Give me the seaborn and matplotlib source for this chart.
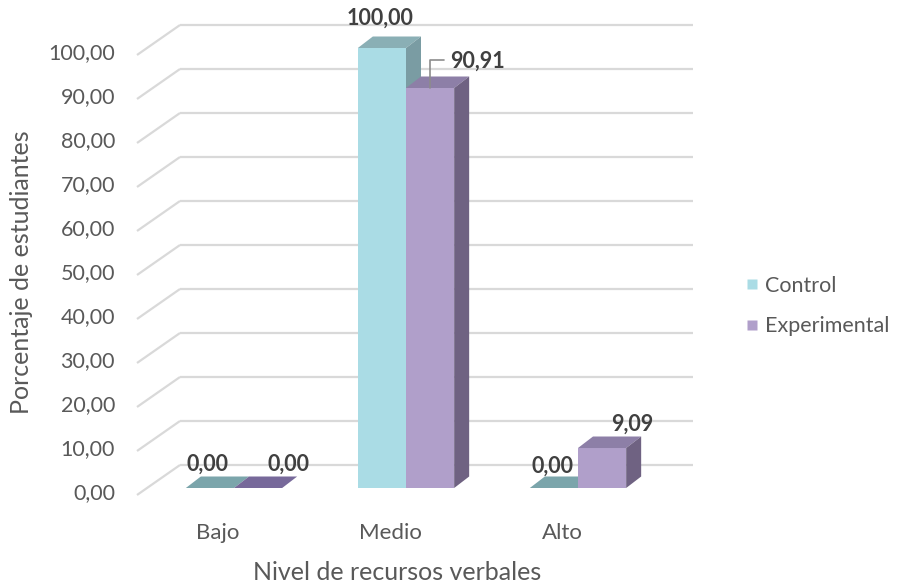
import numpy as np
import pandas as pd
import matplotlib
matplotlib.use("Agg")
import matplotlib.pyplot as plt
from matplotlib.patches import Polygon
from matplotlib.lines import Line2D
import seaborn as sns

# ---- data ----
categories = ["Bajo", "Medio", "Alto"]
groups = ["Control", "Experimental"]
control = [0.00, 100.00, 0.00]
experimental = [0.00, 90.91, 9.09]
y_ticks = [0, 10, 20, 30, 40, 50, 60, 70, 80, 90, 100]

df = pd.DataFrame({
    "nivel": categories * 2,
    "grupo": [groups[0]] * 3 + [groups[1]] * 3,
    "pct": control + experimental,
})

sns.set_theme(style="white")
plt.rcParams["font.family"] = ["Lato", "DejaVu Sans"]

W, H = 897, 585
fig = plt.figure(figsize=(W / 100, H / 100), dpi=100)
ax = fig.add_axes([0, 0, 1, 1])

# pixel scale of the drawing: category spacing and pixels per percent
SX, SY = 172.0, 4.4
X0, Y0 = 234.0, 488.0      # pixel of first category centre / bar baseline


def dx(px):
    return px / SX


def dy(px):
    return px / SY


front = {"Control": "#aadce5", "Experimental": "#b09fca"}
top_c = {"Control": "#8aafb5", "Experimental": "#8d7fa7"}
side_c = {"Control": "#7a9ca3", "Experimental": "#6f6282"}
flat_c = {"Control": "#7ba5ab", "Experimental": "#77699a"}
txt_col = "#595959"

# back wall gridlines with the receding edge on the left
grid_col = "#d9d9d9"
for v in y_ticks:
    yb = v + dy(Y0 - 465)
    yf = v - dy(7)
    ax.plot([dx(137 - X0), dx(180 - X0)], [yf, yb], color=grid_col, lw=1.6,
            zorder=0, solid_capstyle="butt")
    ax.plot([dx(180 - X0), dx(693 - X0)], [yb, yb], color=grid_col, lw=1.6,
            zorder=0, solid_capstyle="butt")
    ax.text(dx(115 - X0), v - dy(5), f"{v:.2f}".replace(".", ","),
            ha="right", va="center", fontsize=15.5, color=txt_col)

# front faces of the bars
sns.barplot(data=df, x="nivel", y="pct", hue="grupo", order=categories,
            hue_order=groups, palette=front, width=0.56, saturation=1,
            linewidth=0, edgecolor="none", legend=False, ax=ax, zorder=2)

# depth of each bar (top and side faces)
ddx, ddy = dx(15), dy(11.5)
for gi, (g, cont) in enumerate(zip(groups, ax.containers)):
    z = 1 if gi == 0 else 3
    for p in cont.patches:
        x0, w, h = p.get_x(), p.get_width(), p.get_height()
        x1 = x0 + w
        if h <= 0:
            ax.add_patch(Polygon([(x0, 0), (x1, 0), (x1 + ddx, ddy), (x0 + ddx, ddy)],
                                 closed=True, fc=flat_c[g], ec="none", zorder=z))
            continue
        ax.add_patch(Polygon([(x0, h), (x1, h), (x1 + ddx, h + ddy), (x0 + ddx, h + ddy)],
                             closed=True, fc=top_c[g], ec="none", zorder=z))
        ax.add_patch(Polygon([(x1, 0), (x1, h), (x1 + ddx, h + ddy), (x1 + ddx, ddy)],
                             closed=True, fc=side_c[g], ec="none", zorder=z))

# value labels (pixel offsets from the top centre of each bar)
label_off = {
    ("Control", 0): (-2, 24), ("Experimental", 0): (30, 24),
    ("Control", 1): (-2, 30), ("Experimental", 1): (20, 27),
    ("Control", 2): (-1, 22), ("Experimental", 2): (30, 24),
}
for g, cont in zip(groups, ax.containers):
    for ci, p in enumerate(cont.patches):
        cx = p.get_x() + p.get_width() / 2
        h = p.get_height()
        ox, oy = label_off[(g, ci)]
        txt = f"{h:.2f}".replace(".", ",")
        if g == "Experimental" and ci == 1:
            ax.plot([cx, cx, cx + dx(14)], [h, h + dy(28), h + dy(28)],
                    color="#8c8c8c", lw=1.2, zorder=4)
            ax.text(cx + dx(ox), h + dy(oy), txt, ha="left", va="center",
                    fontsize=15.5, fontweight="bold", color="#404040", zorder=5)
        else:
            ax.text(cx + dx(ox), h + dy(oy), txt, ha="center", va="center",
                    fontsize=15.5, fontweight="bold", color="#404040", zorder=5)

# category labels
for i, c in enumerate(categories):
    ax.text(i - dx(16), -dy(533 - Y0), c, ha="center", va="center",
            fontsize=16, color=txt_col)

ax.text(dx(397 - X0), -dy(573 - Y0), "Nivel de recursos verbales",
        ha="center", va="center", fontsize=18, color=txt_col)
ax.text(dx(22 - X0), dy(Y0 - 272), "Porcentaje de estudiantes", rotation=90,
        ha="center", va="center", fontsize=18, color=txt_col)

# legend
handles = [Line2D([], [], marker="s", linestyle="none", markersize=7.5,
                  markerfacecolor=front[g], markeredgecolor="none", label=g)
           for g in groups]
fig.legend(handles=handles, loc="center left", bbox_to_anchor=(735 / W, 1 - 306 / H),
           frameon=False, fontsize=15.5, labelcolor=txt_col, handlelength=0.6,
           handletextpad=0.3, labelspacing=0.95, borderpad=0)

ax.set_xlim(-X0 / SX, (W - X0) / SX)
ax.set_ylim(-(H - Y0) / SY, Y0 / SY)
ax.axis("off")
fig.savefig("out.png", dpi=100)
